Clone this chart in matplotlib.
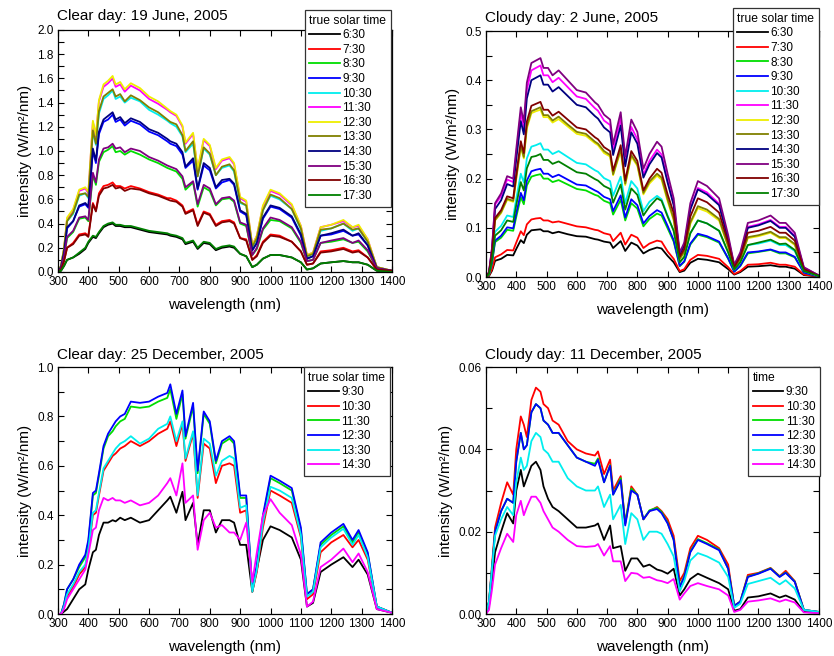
import matplotlib
matplotlib.use('Agg')
import matplotlib.pyplot as plt
from matplotlib.ticker import MultipleLocator, FormatStrFormatter

plt.rcParams['font.family'] = ['Liberation Sans', 'DejaVu Sans']

# wavelength grid (nm) shared by all four panels
wl = [300, 310, 320, 330, 350, 370, 390, 400,
      415, 425, 435, 450, 465, 480, 490, 505, 520,
      540, 570, 600, 630, 660, 670, 690, 710, 720,
      745, 760, 780, 800, 820, 840, 865, 880, 900, 920,
      940, 955, 975, 1000, 1030, 1070, 1100, 1120, 1140, 1165,
      1200, 1240, 1270, 1290, 1320, 1350, 1400]

# ---- clear day, 19 June 2005 (W/m2/nm) ----
jun19_times = ['6:30', '7:30', '8:30', '9:30', '10:30', '11:30',
               '12:30', '13:30', '14:30', '15:30', '16:30', '17:30']
jun19_0630 = [0.00, 0.01, 0.05, 0.10, 0.12, 0.15, 0.19, 0.24,
              0.29, 0.28, 0.32, 0.37, 0.39, 0.40, 0.38, 0.38, 0.37,
              0.37, 0.35, 0.33, 0.32, 0.31, 0.30, 0.29, 0.27, 0.23,
              0.25, 0.19, 0.24, 0.23, 0.18, 0.20, 0.21, 0.20, 0.15, 0.13,
              0.04, 0.06, 0.11, 0.14, 0.14, 0.12, 0.08, 0.02, 0.03, 0.07,
              0.08, 0.09, 0.08, 0.08, 0.06, 0.01, 0.00]
jun19_0730 = [0.00, 0.02, 0.09, 0.20, 0.24, 0.31, 0.32, 0.30,
              0.57, 0.51, 0.65, 0.71, 0.72, 0.74, 0.71, 0.71, 0.69,
              0.71, 0.69, 0.66, 0.64, 0.61, 0.61, 0.59, 0.55, 0.49,
              0.52, 0.39, 0.50, 0.48, 0.39, 0.42, 0.43, 0.41, 0.28, 0.27,
              0.10, 0.14, 0.25, 0.31, 0.30, 0.25, 0.17, 0.06, 0.07, 0.17,
              0.18, 0.20, 0.17, 0.18, 0.12, 0.02, 0.01]
jun19_0830 = [0.00, 0.03, 0.12, 0.28, 0.33, 0.44, 0.45, 0.42,
              0.80, 0.72, 0.91, 0.99, 1.01, 1.04, 0.99, 1.00, 0.97,
              1.00, 0.97, 0.93, 0.90, 0.86, 0.85, 0.83, 0.77, 0.68,
              0.74, 0.54, 0.70, 0.67, 0.55, 0.60, 0.61, 0.58, 0.40, 0.38,
              0.14, 0.19, 0.35, 0.43, 0.42, 0.36, 0.24, 0.09, 0.10, 0.24,
              0.25, 0.27, 0.24, 0.25, 0.17, 0.03, 0.01]
jun19_0930 = [0.00, 0.04, 0.16, 0.36, 0.42, 0.54, 0.56, 0.53,
              1.00, 0.90, 1.14, 1.24, 1.26, 1.30, 1.24, 1.26, 1.21,
              1.25, 1.22, 1.16, 1.13, 1.08, 1.06, 1.04, 0.97, 0.86,
              0.92, 0.68, 0.88, 0.84, 0.69, 0.74, 0.76, 0.72, 0.50, 0.47,
              0.18, 0.24, 0.44, 0.54, 0.52, 0.45, 0.30, 0.11, 0.13, 0.30,
              0.31, 0.34, 0.30, 0.31, 0.22, 0.03, 0.01]
jun19_1030 = [0.00, 0.05, 0.18, 0.42, 0.48, 0.63, 0.65, 0.61,
              1.16, 1.05, 1.31, 1.43, 1.46, 1.50, 1.43, 1.45, 1.40,
              1.44, 1.41, 1.34, 1.30, 1.25, 1.23, 1.20, 1.12, 0.99,
              1.06, 0.79, 1.02, 0.97, 0.80, 0.86, 0.88, 0.83, 0.57, 0.55,
              0.20, 0.28, 0.51, 0.63, 0.60, 0.52, 0.35, 0.13, 0.15, 0.34,
              0.36, 0.40, 0.34, 0.36, 0.25, 0.04, 0.01]
jun19_1130 = [0.00, 0.05, 0.19, 0.44, 0.51, 0.67, 0.69, 0.65,
              1.24, 1.12, 1.41, 1.53, 1.56, 1.60, 1.53, 1.55, 1.49,
              1.54, 1.50, 1.43, 1.39, 1.34, 1.32, 1.29, 1.20, 1.06,
              1.14, 0.84, 1.09, 1.04, 0.85, 0.92, 0.94, 0.89, 0.61, 0.58,
              0.22, 0.30, 0.54, 0.67, 0.64, 0.55, 0.38, 0.14, 0.16, 0.37,
              0.39, 0.42, 0.37, 0.38, 0.27, 0.04, 0.01]
jun19_1230 = [0.00, 0.05, 0.20, 0.45, 0.52, 0.68, 0.70, 0.66,
              1.25, 1.13, 1.42, 1.55, 1.58, 1.62, 1.55, 1.57, 1.51,
              1.56, 1.52, 1.45, 1.41, 1.35, 1.33, 1.30, 1.21, 1.07,
              1.15, 0.85, 1.10, 1.05, 0.86, 0.93, 0.95, 0.90, 0.62, 0.59,
              0.22, 0.30, 0.55, 0.68, 0.65, 0.56, 0.38, 0.14, 0.16, 0.37,
              0.39, 0.43, 0.37, 0.39, 0.27, 0.04, 0.01]
jun19_1330 = [0.00, 0.05, 0.19, 0.42, 0.49, 0.64, 0.65, 0.62,
              1.17, 1.06, 1.33, 1.45, 1.48, 1.51, 1.45, 1.47, 1.41,
              1.46, 1.42, 1.36, 1.32, 1.26, 1.24, 1.22, 1.13, 1.00,
              1.08, 0.79, 1.03, 0.98, 0.80, 0.87, 0.89, 0.84, 0.58, 0.55,
              0.21, 0.28, 0.51, 0.64, 0.61, 0.52, 0.36, 0.13, 0.15, 0.35,
              0.36, 0.40, 0.35, 0.36, 0.25, 0.04, 0.01]
jun19_1430 = [0.00, 0.04, 0.16, 0.37, 0.42, 0.55, 0.57, 0.54,
              1.02, 0.92, 1.16, 1.26, 1.29, 1.32, 1.26, 1.28, 1.23,
              1.27, 1.24, 1.18, 1.15, 1.10, 1.08, 1.06, 0.99, 0.87,
              0.94, 0.69, 0.90, 0.86, 0.70, 0.76, 0.77, 0.73, 0.51, 0.48,
              0.18, 0.24, 0.45, 0.55, 0.53, 0.46, 0.31, 0.11, 0.13, 0.30,
              0.32, 0.35, 0.30, 0.32, 0.22, 0.03, 0.01]
jun19_1530 = [0.00, 0.03, 0.13, 0.29, 0.34, 0.45, 0.46, 0.43,
              0.82, 0.74, 0.93, 1.02, 1.03, 1.06, 1.02, 1.03, 0.99,
              1.02, 1.00, 0.95, 0.92, 0.88, 0.87, 0.85, 0.79, 0.70,
              0.75, 0.56, 0.72, 0.69, 0.56, 0.61, 0.62, 0.59, 0.41, 0.39,
              0.14, 0.20, 0.36, 0.45, 0.43, 0.37, 0.25, 0.09, 0.10, 0.24,
              0.26, 0.28, 0.24, 0.26, 0.18, 0.03, 0.01]
jun19_1630 = [0.00, 0.02, 0.09, 0.20, 0.23, 0.30, 0.31, 0.29,
              0.56, 0.50, 0.63, 0.69, 0.70, 0.72, 0.69, 0.70, 0.67,
              0.69, 0.68, 0.65, 0.63, 0.60, 0.59, 0.58, 0.54, 0.48,
              0.51, 0.38, 0.49, 0.47, 0.38, 0.41, 0.42, 0.40, 0.28, 0.26,
              0.10, 0.13, 0.24, 0.30, 0.29, 0.25, 0.17, 0.06, 0.07, 0.16,
              0.17, 0.19, 0.16, 0.17, 0.12, 0.02, 0.01]
jun19_1730 = [0.00, 0.01, 0.05, 0.10, 0.12, 0.16, 0.20, 0.25,
              0.30, 0.29, 0.33, 0.38, 0.40, 0.41, 0.39, 0.39, 0.38,
              0.38, 0.36, 0.34, 0.33, 0.32, 0.31, 0.30, 0.28, 0.24,
              0.26, 0.20, 0.25, 0.24, 0.19, 0.21, 0.22, 0.21, 0.15, 0.13,
              0.04, 0.06, 0.11, 0.14, 0.14, 0.12, 0.08, 0.02, 0.03, 0.07,
              0.08, 0.09, 0.08, 0.08, 0.06, 0.01, 0.00]

# ---- cloudy day, 2 June 2005 ----
jun02_times = jun19_times
jun02_0630 = [0.000, 0.002, 0.013, 0.033, 0.037, 0.045, 0.044, 0.057,
              0.075, 0.069, 0.086, 0.095, 0.096, 0.097, 0.093, 0.093, 0.089,
              0.092, 0.087, 0.083, 0.082, 0.077, 0.076, 0.072, 0.070, 0.059,
              0.073, 0.053, 0.070, 0.064, 0.048, 0.055, 0.060, 0.058, 0.043, 0.030,
              0.010, 0.013, 0.029, 0.037, 0.035, 0.030, 0.016, 0.005, 0.010, 0.021,
              0.022, 0.024, 0.021, 0.021, 0.017, 0.004, 0.001]
jun02_0730 = [0.000, 0.003, 0.016, 0.040, 0.046, 0.055, 0.054, 0.070,
              0.093, 0.085, 0.107, 0.117, 0.119, 0.120, 0.115, 0.115, 0.111,
              0.113, 0.108, 0.103, 0.101, 0.096, 0.095, 0.089, 0.086, 0.073,
              0.090, 0.066, 0.086, 0.080, 0.059, 0.068, 0.074, 0.072, 0.052, 0.037,
              0.012, 0.016, 0.035, 0.045, 0.043, 0.037, 0.020, 0.006, 0.012, 0.025,
              0.026, 0.029, 0.025, 0.025, 0.021, 0.005, 0.001]
jun02_0830 = [0.000, 0.005, 0.028, 0.071, 0.080, 0.096, 0.094, 0.122,
              0.162, 0.148, 0.186, 0.204, 0.207, 0.209, 0.200, 0.200, 0.193,
              0.197, 0.188, 0.179, 0.176, 0.167, 0.165, 0.155, 0.150, 0.127,
              0.157, 0.115, 0.150, 0.139, 0.103, 0.118, 0.129, 0.125, 0.099, 0.072,
              0.022, 0.031, 0.066, 0.086, 0.081, 0.070, 0.037, 0.011, 0.022, 0.048,
              0.051, 0.055, 0.048, 0.048, 0.040, 0.009, 0.001]
jun02_0930 = [0.000, 0.005, 0.030, 0.074, 0.084, 0.101, 0.099, 0.129,
              0.171, 0.156, 0.196, 0.215, 0.218, 0.220, 0.210, 0.210, 0.203,
              0.208, 0.198, 0.188, 0.186, 0.176, 0.173, 0.163, 0.158, 0.134,
              0.166, 0.121, 0.158, 0.146, 0.109, 0.124, 0.136, 0.131, 0.104, 0.075,
              0.023, 0.032, 0.068, 0.088, 0.083, 0.072, 0.038, 0.011, 0.023, 0.050,
              0.052, 0.056, 0.050, 0.050, 0.041, 0.009, 0.001]
jun02_1030 = [0.000, 0.006, 0.037, 0.092, 0.104, 0.125, 0.122, 0.159,
              0.210, 0.192, 0.241, 0.265, 0.268, 0.272, 0.259, 0.259, 0.250,
              0.256, 0.244, 0.232, 0.229, 0.217, 0.214, 0.201, 0.195, 0.165,
              0.204, 0.150, 0.195, 0.180, 0.134, 0.153, 0.165, 0.158, 0.125, 0.094,
              0.030, 0.041, 0.089, 0.115, 0.109, 0.094, 0.050, 0.015, 0.030, 0.065,
              0.068, 0.074, 0.065, 0.065, 0.053, 0.012, 0.002]
jun02_1130 = [0.000, 0.010, 0.058, 0.147, 0.165, 0.198, 0.193, 0.251,
              0.333, 0.304, 0.381, 0.420, 0.425, 0.430, 0.410, 0.410, 0.396,
              0.405, 0.386, 0.367, 0.362, 0.343, 0.338, 0.318, 0.309, 0.260,
              0.322, 0.235, 0.305, 0.280, 0.208, 0.236, 0.259, 0.249, 0.196, 0.149,
              0.046, 0.065, 0.140, 0.181, 0.172, 0.149, 0.079, 0.023, 0.046, 0.102,
              0.107, 0.116, 0.102, 0.102, 0.084, 0.019, 0.003]
jun02_1230 = [0.000, 0.008, 0.046, 0.115, 0.130, 0.157, 0.153, 0.199,
              0.264, 0.241, 0.302, 0.333, 0.337, 0.340, 0.325, 0.325, 0.314,
              0.321, 0.306, 0.291, 0.287, 0.272, 0.268, 0.252, 0.245, 0.207,
              0.256, 0.187, 0.245, 0.226, 0.168, 0.190, 0.206, 0.198, 0.154, 0.115,
              0.036, 0.050, 0.108, 0.140, 0.133, 0.115, 0.061, 0.018, 0.036, 0.079,
              0.083, 0.090, 0.079, 0.079, 0.065, 0.014, 0.002]
jun02_1330 = [0.000, 0.008, 0.047, 0.116, 0.132, 0.159, 0.155, 0.202,
              0.267, 0.244, 0.306, 0.337, 0.341, 0.345, 0.329, 0.329, 0.318,
              0.326, 0.310, 0.295, 0.291, 0.275, 0.271, 0.256, 0.248, 0.209,
              0.260, 0.190, 0.248, 0.229, 0.171, 0.194, 0.210, 0.202, 0.158, 0.118,
              0.037, 0.052, 0.111, 0.144, 0.137, 0.118, 0.063, 0.018, 0.037, 0.081,
              0.085, 0.092, 0.081, 0.081, 0.067, 0.015, 0.002]
jun02_1430 = [0.000, 0.009, 0.055, 0.138, 0.156, 0.189, 0.184, 0.239,
              0.317, 0.290, 0.363, 0.400, 0.405, 0.410, 0.391, 0.391, 0.377,
              0.386, 0.368, 0.350, 0.345, 0.327, 0.322, 0.304, 0.294, 0.248,
              0.308, 0.225, 0.294, 0.271, 0.202, 0.229, 0.252, 0.243, 0.192, 0.146,
              0.046, 0.064, 0.137, 0.178, 0.168, 0.146, 0.077, 0.023, 0.046, 0.100,
              0.105, 0.114, 0.100, 0.100, 0.082, 0.018, 0.003]
jun02_1530 = [0.000, 0.010, 0.060, 0.150, 0.170, 0.205, 0.200, 0.260,
              0.345, 0.315, 0.395, 0.435, 0.440, 0.445, 0.425, 0.425, 0.410,
              0.420, 0.400, 0.380, 0.375, 0.355, 0.350, 0.330, 0.320, 0.270,
              0.335, 0.245, 0.320, 0.295, 0.220, 0.250, 0.275, 0.265, 0.210, 0.160,
              0.050, 0.070, 0.150, 0.195, 0.185, 0.160, 0.085, 0.025, 0.050, 0.110,
              0.115, 0.125, 0.110, 0.110, 0.090, 0.020, 0.003]
jun02_1630 = [0.000, 0.008, 0.048, 0.120, 0.136, 0.164, 0.160, 0.208,
              0.276, 0.252, 0.316, 0.348, 0.352, 0.356, 0.340, 0.340, 0.328,
              0.336, 0.320, 0.304, 0.300, 0.284, 0.280, 0.264, 0.256, 0.216,
              0.268, 0.196, 0.256, 0.236, 0.176, 0.200, 0.220, 0.212, 0.168, 0.130,
              0.041, 0.057, 0.123, 0.160, 0.152, 0.131, 0.070, 0.020, 0.041, 0.090,
              0.094, 0.102, 0.090, 0.090, 0.074, 0.016, 0.002]
jun02_1730 = [0.000, 0.006, 0.034, 0.084, 0.095, 0.115, 0.112, 0.146,
              0.193, 0.176, 0.221, 0.244, 0.246, 0.250, 0.238, 0.238, 0.230,
              0.235, 0.224, 0.213, 0.210, 0.199, 0.196, 0.185, 0.179, 0.151,
              0.188, 0.137, 0.180, 0.167, 0.125, 0.143, 0.160, 0.155, 0.123, 0.094,
              0.030, 0.041, 0.089, 0.115, 0.109, 0.094, 0.050, 0.015, 0.030, 0.065,
              0.070, 0.076, 0.067, 0.068, 0.055, 0.012, 0.002]

# ---- clear day, 25 December 2005 ----
dec25_times = ['9:30', '10:30', '11:30', '12:30', '13:30', '14:30']
dec25_0930 = [0.00, 0.00, 0.01, 0.02, 0.06, 0.10, 0.12, 0.18,
              0.25, 0.26, 0.32, 0.37, 0.37, 0.38, 0.375, 0.39, 0.38,
              0.39, 0.37, 0.38, 0.42, 0.46, 0.475, 0.41, 0.495, 0.38,
              0.45, 0.28, 0.42, 0.42, 0.33, 0.38, 0.38, 0.37, 0.28, 0.28,
              0.09, 0.18, 0.30, 0.355, 0.34, 0.31, 0.22, 0.03, 0.045, 0.17,
              0.20, 0.23, 0.19, 0.22, 0.16, 0.02, 0.005]
dec25_1030 = [0.00, 0.00, 0.03, 0.07, 0.11, 0.16, 0.19, 0.25,
              0.40, 0.41, 0.48, 0.58, 0.61, 0.64, 0.65, 0.67, 0.68,
              0.70, 0.68, 0.70, 0.73, 0.75, 0.78, 0.68, 0.77, 0.62,
              0.73, 0.47, 0.69, 0.67, 0.53, 0.60, 0.61, 0.60, 0.41, 0.42,
              0.09, 0.17, 0.35, 0.50, 0.48, 0.45, 0.31, 0.06, 0.08, 0.25,
              0.29, 0.32, 0.27, 0.30, 0.22, 0.03, 0.005]
dec25_1130 = [0.00, 0.00, 0.04, 0.10, 0.14, 0.19, 0.23, 0.29,
              0.48, 0.49, 0.56, 0.67, 0.72, 0.74, 0.76, 0.78, 0.79,
              0.84, 0.835, 0.84, 0.86, 0.875, 0.91, 0.79, 0.89, 0.71,
              0.84, 0.57, 0.81, 0.77, 0.61, 0.69, 0.71, 0.69, 0.47, 0.47,
              0.10, 0.19, 0.39, 0.55, 0.53, 0.50, 0.34, 0.08, 0.10, 0.28,
              0.32, 0.355, 0.29, 0.33, 0.245, 0.03, 0.005]
dec25_1230 = [0.00, 0.00, 0.04, 0.10, 0.14, 0.20, 0.24, 0.30,
              0.49, 0.50, 0.57, 0.68, 0.73, 0.76, 0.78, 0.80, 0.81,
              0.86, 0.855, 0.86, 0.88, 0.895, 0.93, 0.81, 0.905, 0.72,
              0.855, 0.58, 0.82, 0.78, 0.62, 0.70, 0.72, 0.70, 0.48, 0.48,
              0.10, 0.20, 0.40, 0.56, 0.54, 0.51, 0.35, 0.08, 0.10, 0.29,
              0.33, 0.365, 0.30, 0.34, 0.25, 0.03, 0.005]
dec25_1330 = [0.00, 0.00, 0.03, 0.08, 0.12, 0.17, 0.20, 0.26,
              0.41, 0.42, 0.49, 0.59, 0.62, 0.65, 0.67, 0.69, 0.70,
              0.72, 0.69, 0.71, 0.75, 0.77, 0.80, 0.70, 0.78, 0.63,
              0.74, 0.48, 0.71, 0.69, 0.56, 0.62, 0.64, 0.63, 0.43, 0.44,
              0.09, 0.18, 0.37, 0.515, 0.50, 0.47, 0.32, 0.07, 0.09, 0.27,
              0.31, 0.345, 0.28, 0.32, 0.23, 0.03, 0.005]
dec25_1430 = [0.00, 0.00, 0.02, 0.06, 0.10, 0.14, 0.18, 0.24,
              0.34, 0.35, 0.42, 0.47, 0.46, 0.47, 0.46, 0.46, 0.45,
              0.46, 0.44, 0.45, 0.48, 0.53, 0.55, 0.48, 0.61, 0.45,
              0.48, 0.26, 0.38, 0.41, 0.35, 0.36, 0.33, 0.33, 0.30, 0.37,
              0.13, 0.25, 0.40, 0.465, 0.41, 0.36, 0.24, 0.03, 0.05, 0.19,
              0.22, 0.265, 0.21, 0.245, 0.17, 0.02, 0.005]

# ---- cloudy day, 11 December 2005 ----
dec11_times = dec25_times
dec11_0930 = [0.0, 0.002, 0.008, 0.015, 0.020, 0.0245, 0.022, 0.030,
              0.035, 0.031, 0.033, 0.036, 0.037, 0.035, 0.031, 0.028, 0.026,
              0.025, 0.023, 0.021, 0.021, 0.0215, 0.022, 0.018, 0.0215, 0.016,
              0.0165, 0.0105, 0.0135, 0.0135, 0.0115, 0.012, 0.0108, 0.0105, 0.0098, 0.011,
              0.0045, 0.006, 0.0085, 0.0098, 0.0088, 0.0075, 0.006, 0.0008, 0.0012, 0.004,
              0.0043, 0.005, 0.004, 0.0045, 0.0035, 0.0005, 0.0003]
dec11_1030 = [0.0, 0.003, 0.012, 0.021, 0.027, 0.032, 0.029, 0.040,
              0.048, 0.046, 0.043, 0.052, 0.055, 0.054, 0.051, 0.050, 0.047,
              0.046, 0.042, 0.040, 0.039, 0.0385, 0.0395, 0.034, 0.0375, 0.030,
              0.0335, 0.022, 0.031, 0.029, 0.023, 0.025, 0.026, 0.025, 0.023, 0.019,
              0.008, 0.010, 0.016, 0.019, 0.018, 0.016, 0.012, 0.002, 0.003, 0.0095,
              0.010, 0.0112, 0.0092, 0.0105, 0.008, 0.001, 0.0005]
dec11_1130 = [0.0, 0.003, 0.011, 0.020, 0.025, 0.028, 0.027, 0.037,
              0.044, 0.040, 0.041, 0.049, 0.051, 0.050, 0.047, 0.046, 0.044,
              0.044, 0.041, 0.038, 0.037, 0.0365, 0.0378, 0.032, 0.0362, 0.029,
              0.033, 0.022, 0.0305, 0.029, 0.023, 0.0252, 0.0258, 0.0248, 0.0222, 0.018,
              0.0067, 0.0092, 0.0152, 0.0182, 0.0172, 0.0157, 0.011, 0.002, 0.003, 0.0091,
              0.0099, 0.0111, 0.0091, 0.0101, 0.0079, 0.001, 0.0005]
dec11_1230 = [0.0, 0.003, 0.011, 0.020, 0.025, 0.028, 0.027, 0.037,
              0.044, 0.040, 0.041, 0.049, 0.051, 0.050, 0.047, 0.046, 0.044,
              0.044, 0.041, 0.038, 0.037, 0.036, 0.0375, 0.032, 0.036, 0.029,
              0.0325, 0.0215, 0.030, 0.029, 0.023, 0.025, 0.0255, 0.0245, 0.022, 0.018,
              0.0065, 0.009, 0.015, 0.018, 0.017, 0.0155, 0.011, 0.002, 0.003, 0.009,
              0.0098, 0.011, 0.009, 0.010, 0.0078, 0.001, 0.0005]
dec11_1330 = [0.0, 0.003, 0.011, 0.019, 0.023, 0.026, 0.024, 0.032,
              0.038, 0.035, 0.036, 0.042, 0.044, 0.043, 0.040, 0.039, 0.037,
              0.037, 0.033, 0.031, 0.030, 0.030, 0.031, 0.026, 0.029, 0.023,
              0.0265, 0.017, 0.0245, 0.023, 0.018, 0.020, 0.020, 0.0195, 0.017, 0.014,
              0.0055, 0.008, 0.013, 0.0148, 0.014, 0.0125, 0.009, 0.0015, 0.0025, 0.0073,
              0.008, 0.0088, 0.0072, 0.0082, 0.0062, 0.001, 0.0005]
dec11_1430 = [0.0, 0.001, 0.006, 0.012, 0.016, 0.0195, 0.0175, 0.024,
              0.0275, 0.024, 0.026, 0.0285, 0.0285, 0.027, 0.025, 0.023, 0.021,
              0.020, 0.018, 0.0165, 0.0163, 0.0165, 0.017, 0.0142, 0.0165, 0.0128,
              0.0128, 0.008, 0.010, 0.0098, 0.0088, 0.009, 0.0082, 0.008, 0.0075, 0.0085,
              0.0035, 0.005, 0.0068, 0.0075, 0.0068, 0.006, 0.0045, 0.0005, 0.001, 0.003,
              0.0033, 0.0038, 0.003, 0.0035, 0.0028, 0.0004, 0.0002]

# Origin-style default colour sequence
colors12 = ['#000000', '#ff0000', '#00dd00', '#0000ff', '#00eeee', '#ff00ff',
            '#eeee00', '#808000', '#000080', '#800080', '#800000', '#008000']
colors6 = ['#000000', '#ff0000', '#00dd00', '#0000ff', '#00eeee', '#ff00ff']

fig = plt.figure(figsize=(8.34, 6.56), dpi=100)


def draw_panel(rect, title, title_xy, times, curves, colors, ymax, ystep,
               yminor, yfmt, leg_title, leg_xy):
    ax = fig.add_axes(rect)
    for t, y, c in zip(times, curves, colors):
        ax.plot(wl, y, color=c, lw=1.3, label=t)
    ax.set_xlim(300, 1400)
    ax.set_ylim(0, ymax)
    ax.xaxis.set_major_locator(MultipleLocator(100))
    ax.yaxis.set_major_locator(MultipleLocator(ystep))
    ax.yaxis.set_minor_locator(MultipleLocator(yminor))
    ax.yaxis.set_major_formatter(FormatStrFormatter(yfmt))
    ax.tick_params(which='both', direction='in', top=True, right=True,
                   length=4, width=0.8, labelsize=8.5, pad=3)
    for s in ax.spines.values():
        s.set_linewidth(0.9)
    ax.set_xlabel('wavelength (nm)', fontsize=11, labelpad=7)
    ax.set_ylabel('intensity (W/m²/nm)', fontsize=11, labelpad=4)
    fig.text(title_xy[0], title_xy[1], title, fontsize=11, ha='left', va='center')
    leg = ax.legend(title=leg_title, loc='upper right', bbox_to_anchor=leg_xy,
                    bbox_transform=fig.transFigure, fontsize=8.5,
                    title_fontsize=8.75, fancybox=False, framealpha=1,
                    edgecolor='#333333', borderpad=0.4, labelspacing=0.22,
                    handlelength=2.6, handletextpad=0.2, borderaxespad=0,
                    alignment='left')
    leg.get_frame().set_linewidth(0.9)
    return ax


draw_panel([0.0695, 0.5854, 0.4005, 0.3689], 'Clear day: 19 June, 2005',
           (0.0683, 0.9756), jun19_times,
           [jun19_0630, jun19_0730, jun19_0830, jun19_0930, jun19_1030, jun19_1130,
            jun19_1230, jun19_1330, jun19_1430, jun19_1530, jun19_1630, jun19_1730],
           colors12, 2.0, 0.2, 0.1, '%.1f', 'true solar time', (0.4688, 0.9848))

draw_panel([0.5827, 0.5777, 0.3993, 0.375], 'Cloudy day: 2 June, 2005',
           (0.5815, 0.9726), jun02_times,
           [jun02_0630, jun02_0730, jun02_0830, jun02_0930, jun02_1030, jun02_1130,
            jun02_1230, jun02_1330, jun02_1430, jun02_1530, jun02_1630, jun02_1730],
           colors12, 0.5, 0.1, 0.05, '%.1f', 'true solar time', (0.982, 0.9878))

draw_panel([0.0695, 0.064, 0.4005, 0.3765], 'Clear day: 25 December, 2005',
           (0.0683, 0.4588), dec25_times,
           [dec25_0930, dec25_1030, dec25_1130, dec25_1230, dec25_1330, dec25_1430],
           colors6, 1.0, 0.2, 0.1, '%.1f', 'true solar time', (0.4676, 0.4405))

draw_panel([0.5827, 0.064, 0.3993, 0.3765], 'Cloudy day: 11 December, 2005',
           (0.5815, 0.4588), dec11_times,
           [dec11_0930, dec11_1030, dec11_1130, dec11_1230, dec11_1330, dec11_1430],
           colors6, 0.06, 0.02, 0.01, '%.2f', 'time', (0.9832, 0.4405))

fig.savefig('out.png', dpi=100)
